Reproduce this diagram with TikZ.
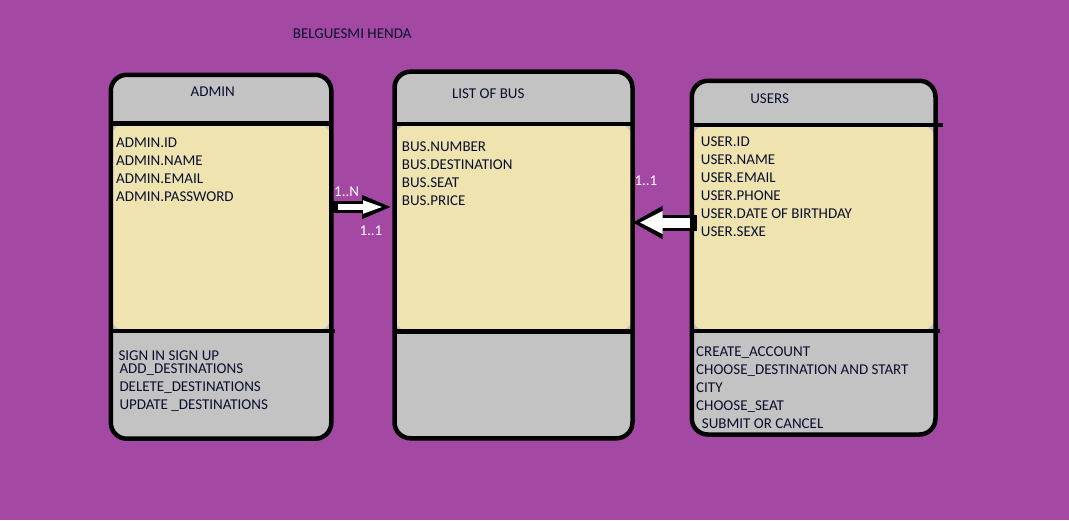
\documentclass[tikz,border=0pt]{standalone}
\usepackage{fontspec}
\setmainfont{Carlito}
\usetikzlibrary{arrows.meta}
\definecolor{bgcol}{RGB}{163,73,164}
\definecolor{headcol}{RGB}{195,195,195}
\definecolor{bodycol}{RGB}{239,228,176}
\definecolor{txtcol}{RGB}{10,15,45}
\newcommand{\fsz}{\fontsize{15pt}{18pt}\selectfont}
\begin{document}
\begin{tikzpicture}[x=1pt,y=-1pt,
  box/.style 2 args={draw=black, line width=4.5pt, rounded corners=16pt, fill=headcol,
    inner sep=0pt, outer sep=0pt,
    path picture={\fill[bodycol] ([yshift=-#1]path picture bounding box.north west)
      rectangle ([yshift=#2]path picture bounding box.south east);}},
  divline/.style={draw=black, line width=4.5pt},
  txt/.style={anchor=base west, inner sep=0pt, font=\fsz, text=txtcol},
  ttl/.style={anchor=base, inner sep=0pt, font=\fsz, text=txtcol},
  lbl/.style={anchor=base west, inner sep=0pt, font=\fsz, text=white},
]
\useasboundingbox (0,0) rectangle (1069,520);
\fill[bgcol] (0,0) rectangle (1069,520);
\fill[black!55] (86,45) circle (0.6pt);

% boxes
\node[box={48.5pt}{107.7pt}, minimum width=220.5pt, minimum height=363.9pt] (admin) at (221.05,256.75) {};
\node[box={52.1pt}{106.6pt}, minimum width=238pt, minimum height=366.6pt] (bus) at (513.5,255) {};
\node[box={44.2pt}{103.7pt}, minimum width=243.7pt, minimum height=353.7pt] (users) at (813.65,257.65) {};

% dividers
\draw[divline] ([yshift=-48.5pt]admin.north west) -- ([yshift=-48.5pt]admin.north east);
\draw[divline] ([yshift=107.7pt]admin.south west) -- ([xshift=4pt,yshift=107.7pt]admin.south east);
\draw[divline] ([yshift=-52.1pt]bus.north west) -- ([yshift=-52.1pt]bus.north east);
\draw[divline] ([yshift=106.6pt]bus.south west) -- ([yshift=106.6pt]bus.south east);
\draw[divline] ([yshift=-44.2pt]users.north west) -- ([xshift=7.5pt,yshift=-44.2pt]users.north east);
\draw[divline] ([yshift=103.7pt]users.south west) -- ([xshift=4pt,yshift=103.7pt]users.south east);

% titles
\node[ttl] (title) at (352.2,38.7) {BELGUESMI HENDA};
\node[ttl] (admint) at (212.8,96) {ADMIN};
\node[ttl] (bust) at (488.3,98.3) {LIST OF BUS};
\node[ttl] (userst) at (769.7,103.3) {USERS};

% attributes
\foreach \t [count=\i] in {ADMIN.ID, ADMIN.NAME, ADMIN.EMAIL, ADMIN.PASSWORD}
  \node[txt] (aattr\i) at (116,{147.3+18*(\i-1)}) {\t};
\foreach \t [count=\i] in {BUS.NUMBER, BUS.DESTINATION, BUS.SEAT, BUS.PRICE}
  \node[txt] (battr\i) at (401.7,{151+18*(\i-1)}) {\t};
\foreach \t [count=\i] in {USER.ID, USER.NAME, USER.EMAIL, USER.PHONE, USER.DATE OF BIRTHDAY, USER.SEXE}
  \node[txt] (uattr\i) at (700.7,{146+18*(\i-1)}) {\t};

% methods
\node[txt] (am1) at (118.3,360) {SIGN IN SIGN UP};
\node[txt] (am2) at (119.3,373.5) {ADD\_DESTINATIONS};
\node[txt] (am3) at (119.3,391.7) {DELETE\_DESTINATIONS};
\node[txt] (am4) at (119.3,409.5) {UPDATE \_DESTINATIONS};

\node[txt] (um1) at (696,356.7) {CREATE\_ACCOUNT};
\node[txt] (um2) at (696,374.7) {CHOOSE\_DESTINATION AND START};
\node[txt] (um3) at (696,392.7) {CITY};
\node[txt] (um4) at (696,410.7) {CHOOSE\_SEAT};
\node[txt] (um5) at (701.7,428.7) {SUBMIT OR CANCEL};

% arrow admin -> bus
\draw[black, line width=12pt, shorten >=2.5pt, -{Triangle[length=30pt,width=21.6pt]}]
  ([yshift=49.75pt]admin.east) coordinate (a1s) -- (bus.west |- a1s);
\draw[white, line width=6pt, shorten >=10.5pt, -{Triangle[length=21pt,width=11.6pt]}]
  ([xshift=7pt]a1s) -- (bus.west |- a1s);

% arrow users -> bus
\draw[black, line width=16pt, -{Triangle[length=30pt,width=31pt]}]
  ([xshift=5.2pt,yshift=35.15pt]users.west) coordinate (a2s) -- (bus.east |- a2s);
\draw[white, line width=10pt, shorten >=7pt, -{Triangle[length=23pt,width=21pt]}]
  ([xshift=-7pt]a2s) -- (bus.east |- a2s);

% multiplicities
\node[lbl] (l1) at (334,196.7) {1..N};
\node[lbl] (l2) at (359.3,235) {1..1};
\node[lbl] (l3) at (634.3,185) {1..1};
\end{tikzpicture}
\end{document}
